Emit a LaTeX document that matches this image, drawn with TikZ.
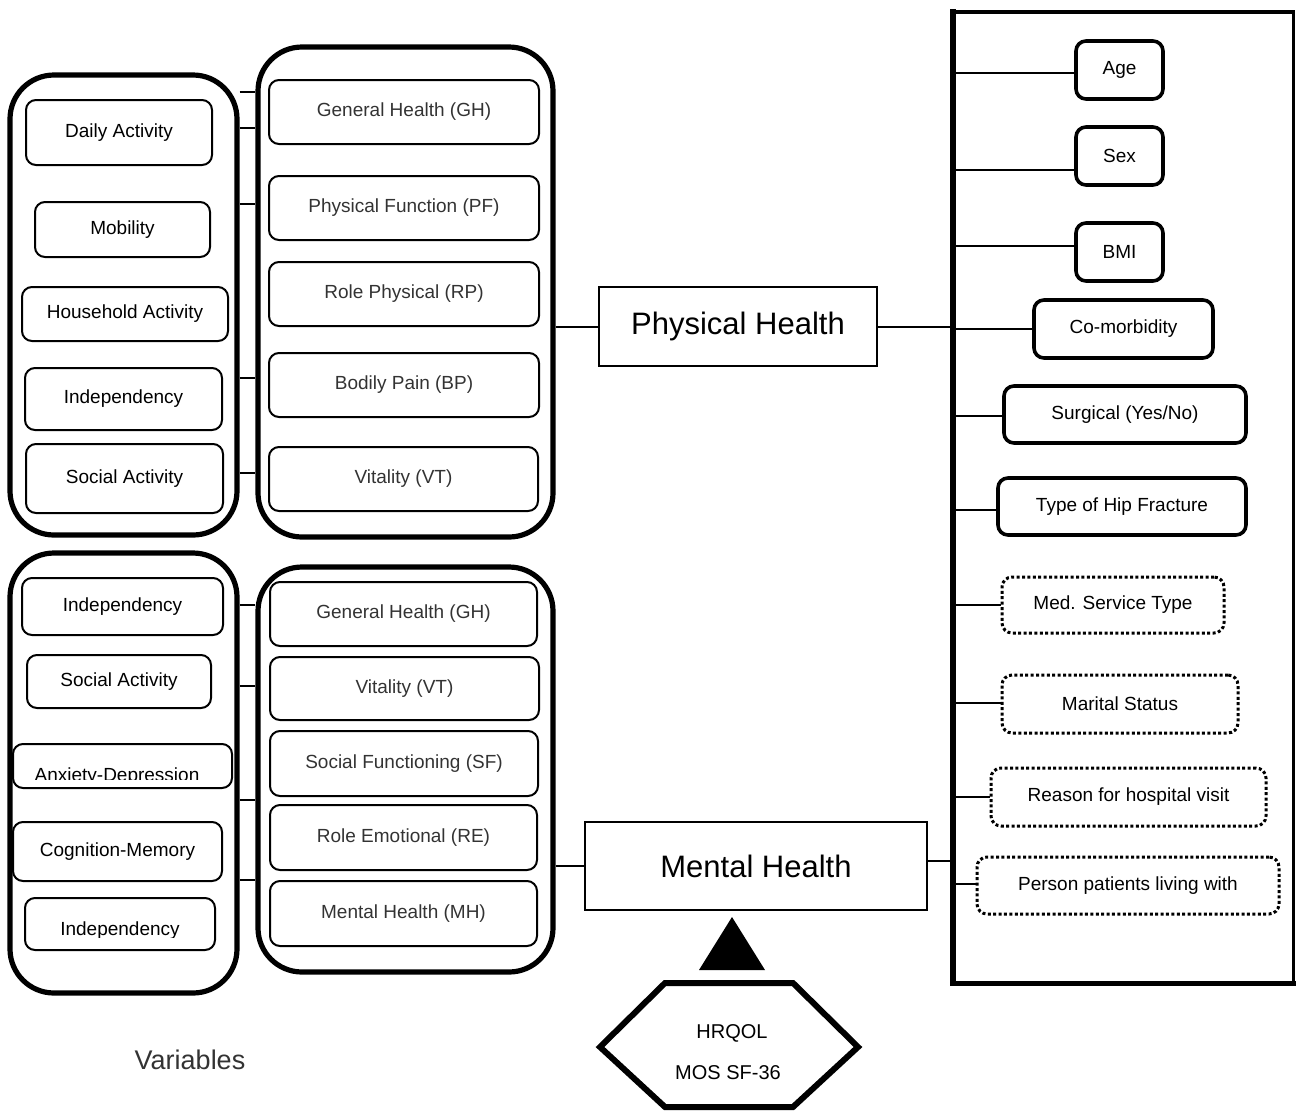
\documentclass[tikz,border=0pt]{standalone}
\usepackage{fontspec}
\setmainfont{Liberation Sans}
\begin{document}
\begin{tikzpicture}[x=0.5pt,y=-0.5pt,
	span/.style n args={4}{at={({(#1+#3)/2},{(#2+#4)/2})},minimum width={(#3-#1)*0.5pt},minimum height={(#4-#2)*0.5pt}},
	grp/.style={draw,rounded corners=22pt,line width=2.6pt,inner sep=0pt},
	ibox/.style={draw,rounded corners=5pt,line width=1pt,inner sep=0pt,font=\fontsize{9.5}{11}\selectfont},
	gbox/.style={ibox,text=black!80},
	vbox/.style={draw,rounded corners=5pt,line width=1.8pt,inner sep=0pt,font=\fontsize{9.5}{11}\selectfont},
	dbox/.style={vbox,line width=1.5pt,dash pattern=on 1.5pt off 1.2pt},
	hbox/.style={draw,line width=1.4pt,inner sep=0pt,font=\fontsize{15.5}{18}\selectfont},
	conn/.style={line width=1pt}]
	\useasboundingbox (0,0) rectangle (1297,1110);
	%PHYSICAL
	\node[grp, span={10}{75}{237}{535}] (lt) {};
	\node[grp, span={258}{47}{553}{537}] (mt) {};
	\node[ibox, span={26}{100}{212}{165}] (da) {Daily Activity};
	\node[ibox, span={35}{202}{210}{257}] (mob) {Mobility};
	\node[ibox, span={22}{287}{228}{341}] (hh) {Household Activity};
	\node[ibox, span={25}{368}{222}{430}] (inda) {Independency};
	\node[ibox, span={26}{444}{223}{513}] (saa) {Social Activity};
	\node[gbox, span={269}{80}{539}{144}] (gha) {General Health (GH)};
	\node[gbox, span={269}{176}{539}{240}] (pf) {Physical Function (PF)};
	\node[gbox, span={269}{262}{539}{326}] (rp) {Role Physical (RP)};
	\node[gbox, span={269}{353}{539}{417}] (bp) {Bodily Pain (BP)};
	\node[gbox, span={269}{447}{538}{511}] (vta) {Vitality (VT)};
	\foreach \y in {92,128,204,378,473}
		\draw[conn] (lt.east |- 0,\y) -- (mt.west |- 0,\y);
	
	%MENTAL
	\node[grp, span={10}{553}{237}{993}] (lb) {};
	\node[grp, span={258}{567}{553}{972}] (mb) {};
	\node[ibox, span={22}{578}{223}{635}] (indb) {Independency};
	\node[ibox, span={27}{655}{211}{708}] (sab) {Social Activity};
	\node[ibox, span={13}{744}{232}{788}] (ad) {};
	\node[ibox, span={13}{822}{222}{881}] (cm) {Cognition-Memory};
	\node[ibox, span={25}{898}{215}{950}] (indc) {};
	\begin{scope}
		\clip (ad.north west) rectangle (232,779);
		\node[anchor=base, font=\fontsize{9.5}{11}\selectfont] (adt) at (117,781) {Anxiety-Depression};
	\end{scope}
	\begin{scope}
		\clip (indc.north west) rectangle (215,937);
		\node[anchor=base, font=\fontsize{9.5}{11}\selectfont] (indct) at (120,935) {Independency};
	\end{scope}
	\node[gbox, span={270}{582}{537}{646}] (ghb) {General Health (GH)};
	\node[gbox, span={270}{657}{539}{720}] (vtb) {Vitality (VT)};
	\node[gbox, span={270}{731}{538}{796}] (sf) {Social Functioning (SF)};
	\node[gbox, span={270}{805}{537}{870}] (re) {Role Emotional (RE)};
	\node[gbox, span={270}{881}{537}{946}] (mhb) {Mental Health (MH)};
	\foreach \y in {605,686,800,880}
		\draw[conn] (lb.east |- 0,\y) -- (mb.west |- 0,\y);
	
	%CENTER
	\node[hbox, span={599}{287}{877}{366}] (ph) {Physical Health};
	\node[hbox, line width=1.2pt, span={585}{822}{927}{910}] (mh) {Mental Health};
	\draw[conn] (mt.east |- ph.west) -- (ph.west);
	\draw[conn] (mb.east |- mh.west) -- (mh.west);
	\fill (732,917) -- (765,970) -- (699,970) -- cycle;
	\draw[line width=3pt] (665,983) -- (793,983) -- (858,1047) -- (793,1107) -- (665,1107) -- (600,1047) -- cycle;
	\node[font=\fontsize{10}{12}\selectfont] (hq) at (732,1033) {HRQOL};
	\node[font=\fontsize{10}{12}\selectfont] (mos) at (728,1073) {MOS SF-36};
	\node[font=\fontsize{13.5}{16}\selectfont, text=black!80] (var) at (190,1060) {Variables};
	
	%RIGHT
	\node[inner sep=0pt, span={953}{12}{1293}{983}] (rb) {};
	\draw[line width=2pt, line cap=rect] (rb.north west) -- (rb.north east);
	\draw[line width=1.5pt, line cap=rect] (rb.north east) -- (rb.south east);
	\draw[line width=2.5pt, line cap=rect] (rb.south west) -- (rb.south east);
	\draw[line width=3pt, line cap=rect] (rb.north west) -- (rb.south west);
	\draw[conn] (ph.east) -- (rb.west |- ph.east);
	\draw[conn] (mh.east |- 0,861) -- (rb.west |- 0,861);
	\node[vbox, span={1076}{41}{1163}{99}] (age) {Age};
	\node[vbox, span={1076}{127}{1163}{185}] (sex) {Sex};
	\node[vbox, span={1076}{223}{1163}{281}] (bmi) {BMI};
	\node[vbox, span={1034}{300}{1213}{358}] (com) {Co-morbidity};
	\node[vbox, span={1004}{386}{1246}{443}] (sur) {Surgical (Yes/No)};
	\node[vbox, span={998}{478}{1246}{535}] (hip) {Type of Hip Fracture};
	\node[dbox, span={1002}{577}{1224}{633}] (med) {Med. Service Type};
	\node[dbox, span={1002}{675}{1238}{733}] (mar) {Marital Status};
	\node[dbox, span={991}{768}{1266}{826}] (rsn) {Reason for hospital visit};
	\node[dbox, span={977}{857}{1279}{914}] (liv) {Person patients living with};
	\foreach \n/\y in {age/73,sex/170,bmi/246,com/329,sur/416,hip/510,med/605,mar/703,rsn/797,liv/884}
		\draw[conn] (rb.west |- 0,\y) -- (\n.west |- 0,\y);
\end{tikzpicture}
\end{document}
